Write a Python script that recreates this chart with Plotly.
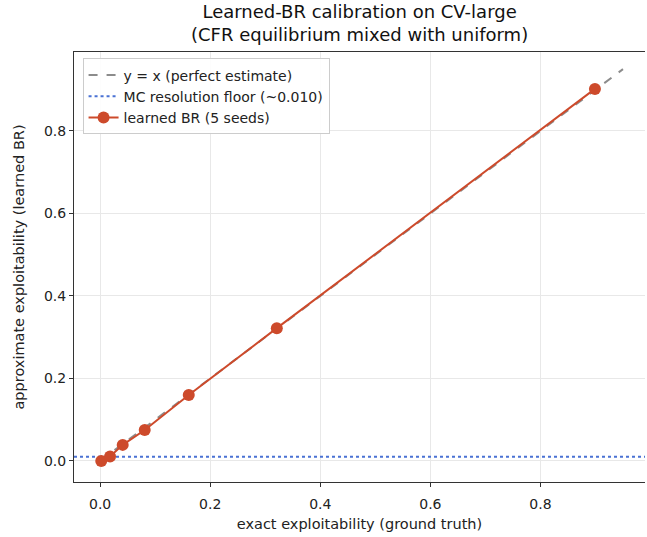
import plotly.graph_objects as go

# exact vs learned-BR exploitability, mean over 5 seeds
exact_expl = [0.002, 0.018, 0.041, 0.081, 0.161, 0.321, 0.899]
learned_expl = [0.000, 0.011, 0.039, 0.075, 0.160, 0.322, 0.902]
learned_err = [0.002, 0.002, 0.002, 0.002, 0.002, 0.002, 0.002]

identity_x = [0.0, 0.95]
mc_floor = 0.010

red = "#cd4a2b"

fig = go.Figure()

fig.add_trace(
    go.Scatter(
        x=identity_x,
        y=identity_x,
        mode="lines",
        name="y = x (perfect estimate)",
        line=dict(color="#8c8c8c", dash="dash", width=2),
    )
)

fig.add_trace(
    go.Scatter(
        x=[-0.0475, 0.9975],
        y=[mc_floor, mc_floor],
        mode="lines",
        name="MC resolution floor (~0.010)",
        line=dict(color="#4a72d4", dash="dot", width=2),
    )
)

fig.add_trace(
    go.Scatter(
        x=exact_expl,
        y=learned_expl,
        mode="lines+markers",
        name="learned BR (5 seeds)",
        line=dict(color=red, width=2),
        marker=dict(color=red, size=12),
        error_y=dict(type="data", array=learned_err, color=red, thickness=1.5, width=3),
    )
)

fig.update_layout(
    width=647,
    height=537,
    margin=dict(l=74, r=2, t=52, b=55),
    paper_bgcolor="white",
    plot_bgcolor="white",
    font=dict(family="DejaVu Sans", size=14, color="#222"),
    legend=dict(
        x=0.015,
        y=0.985,
        xanchor="left",
        yanchor="top",
        bgcolor="rgba(255,255,255,0.9)",
        bordercolor="#cccccc",
        borderwidth=1,
        font=dict(size=14),
        tracegroupgap=2,
    ),
    showlegend=True,
)

# two-line title as an annotation so it sits just above the axes
fig.add_annotation(
    text="Learned-BR calibration on CV-large<br>(CFR equilibrium mixed with uniform)",
    xref="paper",
    yref="paper",
    x=0.5,
    y=1.0,
    xanchor="center",
    yanchor="bottom",
    yshift=5,
    showarrow=False,
    font=dict(size=18, color="#111"),
)

fig.update_xaxes(
    range=[-0.0475, 0.99],
    tickvals=[0, 0.2, 0.4, 0.6, 0.8],
    ticktext=["0.0", "0.2", "0.4", "0.6", "0.8"],
    showgrid=True,
    gridcolor="#e8e8e8",
    zeroline=False,
    showline=True,
    linecolor="#333",
    linewidth=1,
    mirror=True,
    ticks="outside",
    ticklen=4,
    tickcolor="#333",
    ticklabelstandoff=5,
    title=dict(text="exact exploitability (ground truth)", font=dict(size=14.5), standoff=8),
)

fig.update_yaxes(
    range=[-0.051, 0.9915],
    tickvals=[0, 0.2, 0.4, 0.6, 0.8],
    ticktext=["0.0", "0.2", "0.4", "0.6", "0.8"],
    showgrid=True,
    gridcolor="#e8e8e8",
    zeroline=False,
    showline=True,
    linecolor="#333",
    linewidth=1,
    ticks="outside",
    ticklen=4,
    tickcolor="#333",
    title=dict(text="approximate exploitability (learned BR)", font=dict(size=14.5), standoff=15),
)

fig.write_html(
    "out.html",
    config={"displayModeBar": False},
    post_script="document.body.style.margin='0';",
)
